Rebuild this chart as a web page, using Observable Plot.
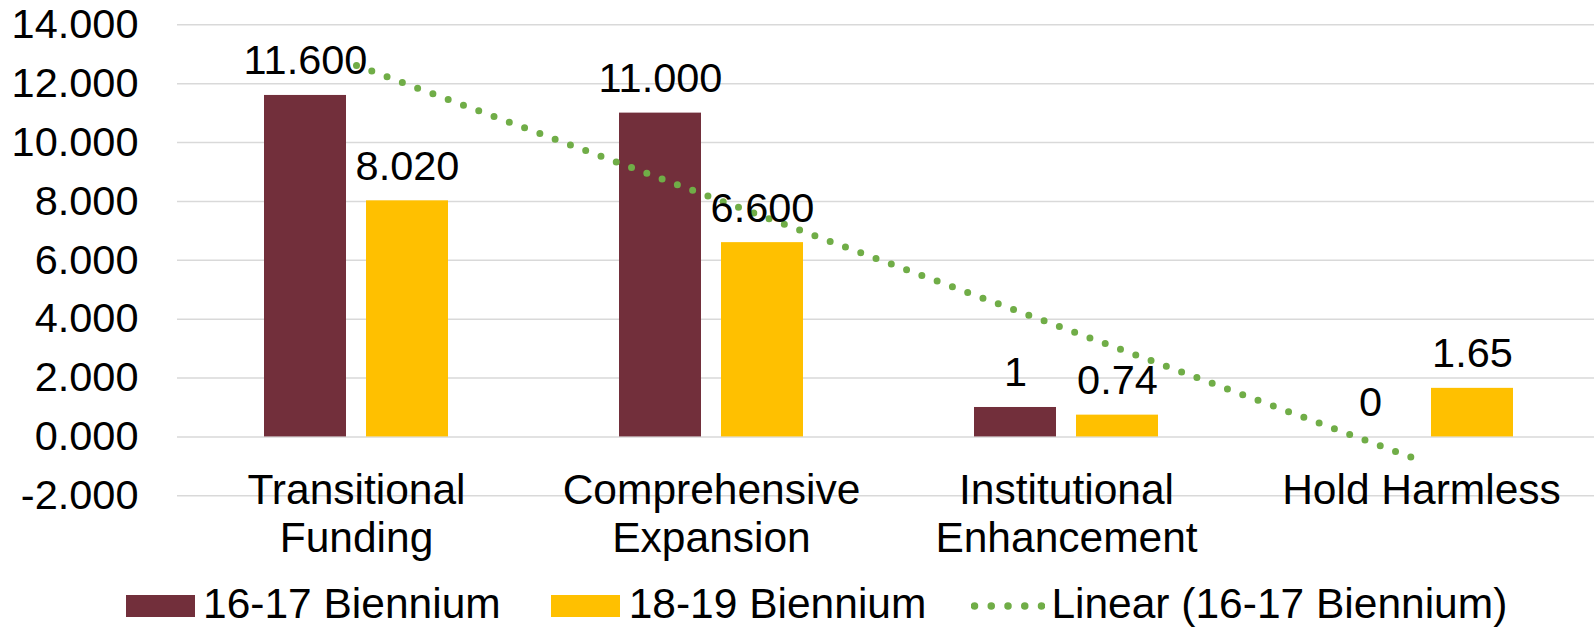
<!DOCTYPE html>
<html><head><meta charset="utf-8">
<script src="https://cdn.jsdelivr.net/npm/d3@7"></script>
<script src="https://cdn.jsdelivr.net/npm/@observablehq/plot@0.6"></script>
<style>
html,body{margin:0;padding:0;background:#fff;width:1594px;height:627px;overflow:hidden;font-family:'Liberation Sans',Arial,sans-serif;}
#chart svg{display:block;}
#legend{display:flex;align-items:center;height:47px;font-size:42.5px;line-height:47px;color:#000;white-space:nowrap;}
.sw{display:inline-block;width:69px;height:22px;position:relative;top:2px;}
</style></head><body>
<div id="chart"></div>
<div id="legend"></div>
<script>
const categories = ["Transitional Funding", "Comprehensive Expansion", "Institutional Enhancement", "Hold Harmless"];
const categoryLabels = ["Transitional\nFunding", "Comprehensive\nExpansion", "Institutional\nEnhancement", "Hold Harmless"];
const seriesNames = ["16-17 Biennium", "18-19 Biennium"];
const values1617 = [11.6, 11.0, 1, 0];
const values1819 = [8.02, 6.6, 0.74, 1.65];
const labels1617 = ["11.600", "11.000", "1", "0"];
const labels1819 = ["8.020", "6.600", "0.74", "1.65"];
const yTicks = [-2, 0, 2, 4, 6, 8, 10, 12, 14];
const trendName = "Linear (16-17 Biennium)";
const colors = ["#722F3B", "#FFC000"];
const trendColor = "#70AD47";

const rows1617 = categories.map((c, i) => ({cat: c, v: values1617[i], label: labels1617[i]}));
const rows1819 = categories.map((c, i) => ({cat: c, v: values1819[i], label: labels1819[i]}));
const catRows = categories.map((c, i) => ({cat: c, label: categoryLabels[i]}));

// least-squares linear trend of the 16-17 series (Excel-style trendline)
const xs = values1617.map((_, i) => i + 1);
const mx = d3.mean(xs), my = d3.mean(values1617);
const slope = d3.sum(xs, (x, i) => (x - mx) * (values1617[i] - my)) / d3.sum(xs, x => (x - mx) ** 2);
const icpt = my - slope * mx;
const trend = [0, categories.length - 1].map(i => ({cat: categories[i], v: icpt + slope * (i + 1)}));

const off = 51;

const chart = Plot.plot({
  width: 1594,
  height: 580,
  marginLeft: 177,
  marginRight: 0,
  marginTop: 24,
  marginBottom: 85,
  style: {fontFamily: "'Liberation Sans', Arial, sans-serif", fontSize: "41px", color: "#000", background: "#fff", overflow: "visible"},
  x: {domain: categories, range: [177, 1600], paddingInner: 0.769, paddingOuter: 0.3845, axis: null},
  y: {domain: [-2, 14], range: [495.3, 24.3], label: null},
  marks: [
    Plot.ruleY(yTicks, {stroke: "#D9D9D9", strokeWidth: 1.5}),
    Plot.axisY({ticks: yTicks, tickFormat: d => d.toFixed(3), tickSize: 0, tickPadding: 39, fontSize: 41.5, label: null}),
    Plot.barY(rows1617, {x: "cat", y: "v", fill: colors[0], dx: -off}),
    Plot.barY(rows1819, {x: "cat", y: "v", fill: colors[1], dx: off}),
    Plot.line(trend, {x: "cat", y: "v", stroke: trendColor, strokeWidth: 7, strokeLinecap: "round", strokeDasharray: "0 16.3"}),
    Plot.text(rows1617, {x: "cat", y: "v", text: "label", dx: -off, dy: -21, lineAnchor: "bottom", fontSize: 41.5, fill: "#000"}),
    Plot.text(rows1819, {x: "cat", y: "v", text: "label", dx: off, dy: -21, lineAnchor: "bottom", fontSize: 41.5, fill: "#000"}),
    Plot.text(catRows, {x: "cat", y: () => 0, text: "label", lineAnchor: "top", dy: 32, lineHeight: 1.15, fontSize: 42.5, fill: "#000"})
  ]
});
document.getElementById("chart").appendChild(chart);

// legend
const legend = document.getElementById("legend");
function addText(t, ml) {
  const s = document.createElement("span");
  s.textContent = t;
  s.style.marginLeft = ml + "px";
  legend.appendChild(s);
}
function addSwatch(color, ml) {
  const s = document.createElement("span");
  s.className = "sw";
  s.style.background = color;
  s.style.marginLeft = ml + "px";
  legend.appendChild(s);
}
addSwatch(colors[0], 126);
addText(seriesNames[0], 8);
addSwatch(colors[1], 50);
addText(seriesNames[1], 9);
const ns = "http://www.w3.org/2000/svg";
const sv = document.createElementNS(ns, "svg");
sv.setAttribute("width", 74); sv.setAttribute("height", 22);
sv.style.marginLeft = "45px"; sv.style.position = "relative"; sv.style.top = "2px";
const ln = document.createElementNS(ns, "line");
ln.setAttribute("x1", 3.5); ln.setAttribute("x2", 71); ln.setAttribute("y1", 11); ln.setAttribute("y2", 11);
ln.setAttribute("stroke", trendColor); ln.setAttribute("stroke-width", 7.5);
ln.setAttribute("stroke-linecap", "round"); ln.setAttribute("stroke-dasharray", "0 16.75");
sv.appendChild(ln);
legend.appendChild(sv);
addText(trendName, 6);
</script>
</body></html>
